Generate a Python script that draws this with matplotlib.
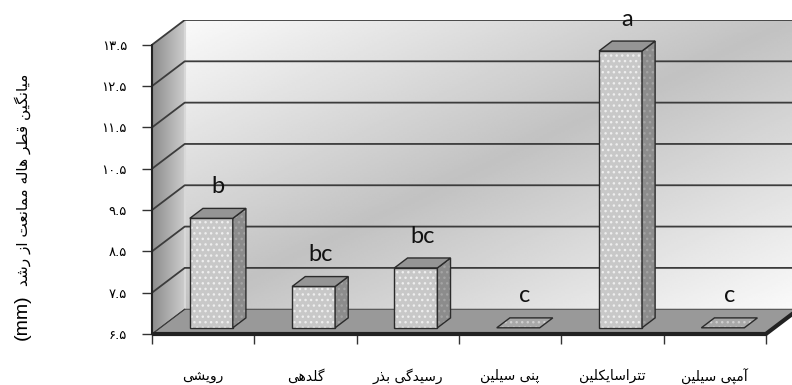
import numpy as np
import matplotlib.pyplot as plt
from matplotlib.patches import Polygon

# --- data
categories = ['رویشی', 'گلدهی', 'رسیدگی بذر', 'پنی سیلین', 'تتراسایکلین', 'آمپی سیلین']
values = [9.15, 7.5, 7.95, 0.0, 13.2, 0.0]
letters = ['b', 'bc', 'bc', 'c', 'a', 'c']
yticks = [6.5, 7.5, 8.5, 9.5, 10.5, 11.5, 12.5, 13.5]
ylabel_fa = 'میانگین قطر هاله ممانعت از رشد'
ylabel_unit = '(mm)'

# --- persian text helpers (matplotlib does no arabic shaping)
# forms: isolated, final, initial, medial
FORMS = {
    'ا': ('\uFE8D', '\uFE8E', None, None),
    'آ': ('\uFE81', '\uFE82', None, None),
    'ب': ('\uFE8F', '\uFE90', '\uFE91', '\uFE92'),
    'پ': ('\uFB56', '\uFB57', '\uFB58', '\uFB59'),
    'ت': ('\uFE95', '\uFE96', '\uFE97', '\uFE98'),
    'د': ('\uFEA9', '\uFEAA', None, None),
    'ذ': ('\uFEAB', '\uFEAC', None, None),
    'ر': ('\uFEAD', '\uFEAE', None, None),
    'ز': ('\uFEAF', '\uFEB0', None, None),
    'س': ('\uFEB1', '\uFEB2', '\uFEB3', '\uFEB4'),
    'ش': ('\uFEB5', '\uFEB6', '\uFEB7', '\uFEB8'),
    'ط': ('\uFEC1', '\uFEC2', '\uFEC3', '\uFEC4'),
    'ع': ('\uFEC9', '\uFECA', '\uFECB', '\uFECC'),
    'ق': ('\uFED5', '\uFED6', '\uFED7', '\uFED8'),
    '\u06A9': ('\uFB8E', '\uFB8F', '\uFB90', '\uFB91'),
    'گ': ('\uFB92', '\uFB93', '\uFB94', '\uFB95'),
    'ل': ('\uFEDD', '\uFEDE', '\uFEDF', '\uFEE0'),
    'م': ('\uFEE1', '\uFEE2', '\uFEE3', '\uFEE4'),
    'ن': ('\uFEE5', '\uFEE6', '\uFEE7', '\uFEE8'),
    'ه': ('\uFEE9', '\uFEEA', '\uFEEB', '\uFEEC'),
    'و': ('\uFEED', '\uFEEE', None, None),
    '\u06CC': ('\uFBFC', '\uFBFD', '\uFBFE', '\uFBFF'),
}
FA_DIGITS = str.maketrans('0123456789', '۰۱۲۳۴۵۶۷۸۹')


def fa(text):
    text = text.replace('\u064A', '\u06CC').replace('\u0643', '\u06A9')
    out = []
    for i, ch in enumerate(text):
        f = FORMS.get(ch)
        if f is None:
            out.append(ch)
            continue
        prev = text[i - 1] if i > 0 else None
        nxt = text[i + 1] if i < len(text) - 1 else None
        jp = prev in FORMS and FORMS[prev][2] is not None
        jn = f[2] is not None and nxt in FORMS
        if jp and jn:
            out.append(f[3])
        elif jp:
            out.append(f[1])
        elif jn:
            out.append(f[2])
        else:
            out.append(f[0])
    return ''.join(out)[::-1]


# --- fake 3d geometry (data units)
YMIN, YTOP = 6.5, 14.1
XMIN, XMAX = -0.5, 5.756
DX, DY = 0.32, 0.6          # depth offset of back wall
W = 0.42                    # bar width
D0, D1 = 0.25, 0.65         # bar depth range (fraction of DX/DY)
EDGE = '#2b2b2b'

fig = plt.figure(figsize=(7.92, 3.85), dpi=100)
ax = fig.add_axes([152 / 792, 51 / 385, 640 / 792, 314 / 385])
ax.set_xlim(XMIN, XMAX)
ax.set_ylim(YMIN, YTOP)


def face(pts, fc, hc=None, z=2, lw=1.0):
    ax.add_patch(Polygon(pts, closed=True, facecolor=fc, edgecolor='none', zorder=z))
    if hc:
        ax.add_patch(Polygon(pts, closed=True, fill=False, hatch='...', edgecolor=hc,
                             linewidth=0, zorder=z))
    ax.add_patch(Polygon(pts, closed=True, fill=False, edgecolor=EDGE, linewidth=lw, zorder=z))


# back wall: light - gray - light diagonal gradient
bx0 = XMIN + DX
back = Polygon([(bx0, YMIN + DY), (XMAX + 1, YMIN + DY), (XMAX + 1, YTOP), (bx0, YTOP)],
               closed=True, facecolor='none', edgecolor='none')
ax.add_patch(back)
gx, gy = np.meshgrid(np.linspace(0, 1, 300), np.linspace(0, 1, 150))
s = np.abs((gx + gy) / 2 - 0.5) * 2
ax.imshow(0.76 + 0.22 * s, cmap='gray', vmin=0, vmax=1, aspect='auto', origin='upper',
          extent=[bx0, XMAX, YMIN + DY, YTOP], clip_path=back, zorder=0)

# left side wall
side = Polygon([(XMIN, YMIN), (XMIN, yticks[-1]), (bx0, YTOP), (bx0, YMIN + DY)],
               closed=True, facecolor='none', edgecolor='none')
ax.add_patch(side)
sg = np.tile(np.linspace(0.55, 0.8, 50), (50, 1))
ax.imshow(sg, cmap='gray', vmin=0, vmax=1, aspect='auto', origin='upper',
          extent=[XMIN, bx0, YMIN, YTOP], clip_path=side, zorder=0)
ax.plot([bx0, bx0], [YMIN + DY, YTOP], color='#d8d8d8', lw=1.5, zorder=1)

# floor
face([(XMIN, YMIN), (5.5, YMIN), (5.5 + DX, YMIN + DY), (bx0, YMIN + DY)], '#999999', z=1, lw=0.6)
ax.plot([XMIN, 5.5, 5.5 + DX], [YMIN, YMIN, YMIN + DY], color='#222222', lw=3,
        solid_capstyle='butt', zorder=6, clip_on=False)

# gridlines on back and side wall
for v in yticks[1:]:
    ax.plot([XMIN, bx0, XMAX], [v, v + DY, v + DY], color='#3c3c3c', lw=1.3, zorder=1)
ax.plot([XMIN, bx0], [YMIN, YMIN + DY], color='#3c3c3c', lw=0.8, zorder=1)

# bars
for i, v in enumerate(values):
    top = max(v, YMIN)
    x0, x1 = i - W / 2, i + W / 2
    fb, bb = YMIN + D0 * DY, YMIN + D1 * DY
    if top <= YMIN:
        face([(x0 + D0 * DX, fb), (x1 + D0 * DX, fb), (x1 + D1 * DX, bb), (x0 + D1 * DX, bb)],
             '#a8a8a8', '#cfcfcf', z=3)
        continue
    ft, bt = top + D0 * DY, top + D1 * DY
    face([(x0 + D0 * DX, fb), (x1 + D0 * DX, fb), (x1 + D0 * DX, ft), (x0 + D0 * DX, ft)],
         '#c8c8c8', '#eeeeee', z=3)
    face([(x1 + D0 * DX, fb), (x1 + D1 * DX, bb), (x1 + D1 * DX, bt), (x1 + D0 * DX, ft)],
         '#8c8c8c', '#a4a4a4', z=3)
    face([(x0 + D0 * DX, ft), (x1 + D0 * DX, ft), (x1 + D1 * DX, bt), (x0 + D1 * DX, bt)],
         '#959595', z=3)

# significance letters
for i, (v, lab) in enumerate(zip(values, letters)):
    top = max(v, YMIN)
    ax.text(i + (D0 + D1) / 2 * DX, top + D0 * DY + 0.77, lab, ha='center', va='center',
            fontsize=17, family=['Lato', 'DejaVu Sans'], color='#111111', zorder=10)

# axes
for sp in ['top', 'right']:
    ax.spines[sp].set_visible(False)
ax.spines['bottom'].set_visible(False)
ax.spines['left'].set_bounds(YMIN, yticks[-1])
ax.spines['left'].set_color('#222222')
ax.spines['left'].set_linewidth(1.5)
ax.spines['left'].set_zorder(6)

ax.set_yticks(yticks)
ax.set_yticklabels([f'{t:.1f}'.translate(FA_DIGITS) for t in yticks],
                   fontsize=9.5, family=['DejaVu Sans'])
ax.tick_params(axis='y', direction='out', length=7, width=1, color='#333333', pad=11)

ax.set_xticks(range(len(categories)))
ax.set_xticklabels([fa(c) for c in categories], fontsize=10, family=['DejaVu Sans'])
ax.set_xticks(np.arange(-0.5, len(categories)), minor=True)
ax.tick_params(axis='x', which='major', length=0, pad=25)
ax.tick_params(axis='x', which='minor', direction='out', length=7, width=1, color='#333333')

# y axis title: persian text with the unit below it
fig.text(0.028, 0.532, fa(ylabel_fa), rotation=90, ha='center', va='center',
         fontsize=11, family=['DejaVu Sans'])
fig.text(0.028, 0.175, ylabel_unit, rotation=90, ha='center', va='center',
         fontsize=14, family=['Liberation Sans', 'DejaVu Sans'])

fig.savefig('out.png', dpi=100)
